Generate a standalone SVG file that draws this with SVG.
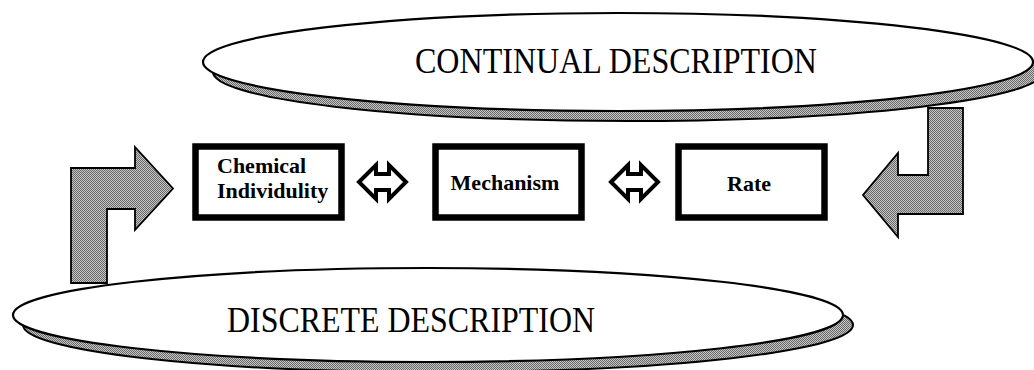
<svg xmlns="http://www.w3.org/2000/svg" width="1034" height="370" viewBox="0 0 1034 370">
<defs>
<pattern id="dither" width="2" height="2" patternUnits="userSpaceOnUse">
<rect width="2" height="2" fill="#c4c4c4"/>
<rect width="1" height="1" fill="#6a6a6a"/>
<rect x="1" y="1" width="1" height="1" fill="#6a6a6a"/>
</pattern>
<style>
.shadow{fill:url(#dither);stroke:#000;stroke-width:2}
.ell{fill:#fff;stroke:#000;stroke-width:2.2}
.big{font-family:"Liberation Serif","Times New Roman",serif;font-size:36px;fill:#000}
.box{fill:#fff;stroke:#000;stroke-width:6.5}
.lbl{font-family:"Liberation Serif","Times New Roman",serif;font-size:22px;font-weight:bold;fill:#000}
.bent{fill:url(#dither);stroke:#000;stroke-width:1.8;stroke-linejoin:miter}
.dbl{fill:#fff;stroke:#000;stroke-width:4;stroke-linejoin:miter}
</style>
</defs>
<rect width="1034" height="370" fill="#fff"/>
<g id="continual">
<ellipse class="shadow" cx="628" cy="72" rx="415" ry="49"/>
<ellipse class="ell" cx="618" cy="62" rx="415" ry="49"/>
<text class="big" x="415" y="73" textLength="402" lengthAdjust="spacingAndGlyphs">CONTINUAL DESCRIPTION</text>
</g>
<g id="discrete">
<ellipse class="shadow" cx="438" cy="325" rx="415" ry="47"/>
<ellipse class="ell" cx="428" cy="315" rx="415" ry="47"/>
<text class="big" x="227" y="332" textLength="368" lengthAdjust="spacingAndGlyphs">DISCRETE DESCRIPTION</text>
</g>
<g id="connectors">
<polygon id="arrow-left" class="bent" points="71,283 71,168 135,168 135,147 173,188.5 135,230 135,209 107,209 107,283"/>
<polygon id="arrow-right" class="bent" points="963,108 963,214 898,214 898,237 863,195 898,153 898,175 928,175 928,108"/>
<polygon id="dbl1" class="dbl" points="359,182 376,165 376,174 389,174 389,165 406,182 389,199 389,190 376,190 376,199"/>
<polygon id="dbl2" class="dbl" points="611,182 628,165 628,174 641,174 641,165 658,182 641,199 641,190 628,190 628,199"/>
</g>
<g id="chemical">
<rect class="box" x="195.5" y="146.5" width="146" height="71"/>
<text class="lbl" x="217" y="173">Chemical</text>
<text class="lbl" x="217" y="198">Individulity</text>
</g>
<g id="mechanism">
<rect class="box" x="435.5" y="146.5" width="146" height="71"/>
<text class="lbl" x="505" y="190" text-anchor="middle">Mechanism</text>
</g>
<g id="rate">
<rect class="box" x="678.5" y="146.5" width="146" height="71"/>
<text class="lbl" x="749" y="191" text-anchor="middle">Rate</text>
</g>
</svg>
